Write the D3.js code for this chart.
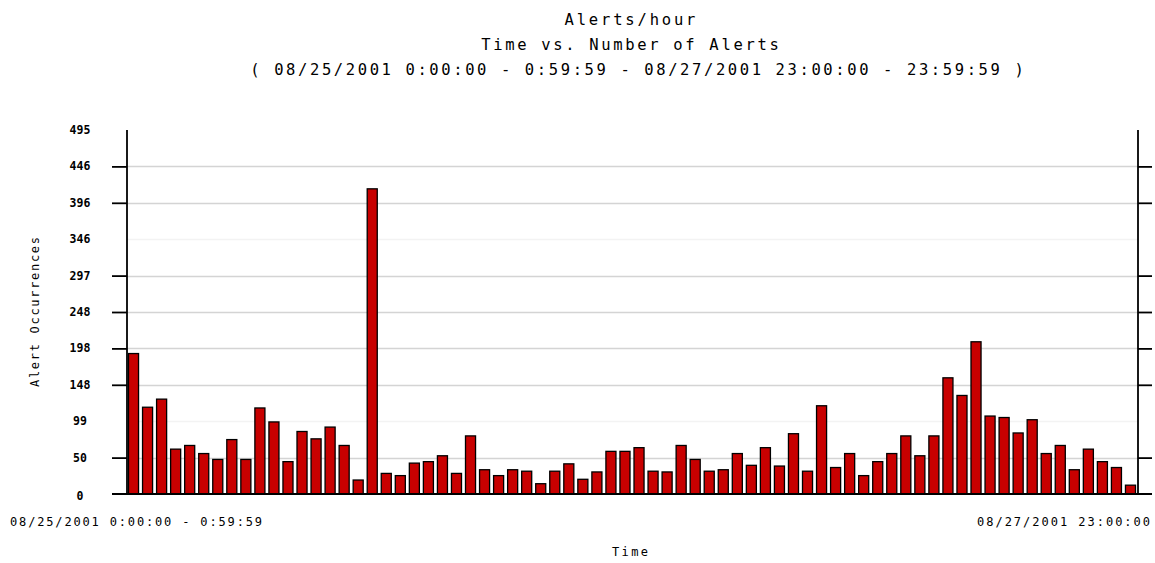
<!DOCTYPE html>
<html>
<head>
<meta charset="utf-8">
<script src="https://cdn.jsdelivr.net/npm/d3@7"></script>
<style>
  html, body { margin: 0; padding: 0; background: #fff; }
  svg { display: block; }
  text { font-family: "DejaVu Sans Mono", monospace; fill: #000; }
</style>
</head>
<body>
<svg id="chart" width="1155" height="563"></svg>
<script>
// ---- data ----
const titleLines = [
  "Alerts/hour",
  "Time vs. Number of Alerts",
  "( 08/25/2001 0:00:00 - 0:59:59 - 08/27/2001 23:00:00 - 23:59:59 )"
];
const days = ["08/25/2001", "08/26/2001", "08/27/2001"];
const alertCounts = [
  191,118,129,61,66,55,47,74,47,117,98,44,85,75,91,66,19,415,28,25,42,44,52,28,
  79,33,25,33,31,14,31,41,20,30,58,58,63,31,30,66,47,31,33,55,39,63,38,82,31,120,
  36,55,25,44,55,79,52,79,158,134,207,106,104,83,101,55,66,33,61,44,36,12
];
const yMax = 495;
const yTickValues = [0, 49.5, 99, 148.5, 198, 247.5, 297, 346.5, 396, 445.5, 495];
const yTickLabels = ["0", "50", "99", "148", "198", "248", "297", "346", "396", "446", "495"];
const faintTicks = [99, 346.5];
const xFirstLabel = "08/25/2001 0:00:00 - 0:59:59";
const xLastLabel = "08/27/2001 23:00:00";
const yTitle = "Alert Occurrences";
const xTitle = "Time";

(function () {
// categories: one per hour
const categories = [];
days.forEach(d => { for (let h = 0; h < 24; h++) categories.push(d + " " + h + ":00:00"); });

// ---- layout ----
const svg = d3.select("#chart");
const pLeft = 127, pRight = 1138, pTop = 130, pBottom = 494;

const x = d3.scaleBand().domain(categories).range([pLeft, pRight]).padding(0);
const y = d3.scaleLinear().domain([0, yMax]).range([pBottom, pTop]);

// titles
const titleY = [20, 45, 70];
titleLines.forEach((t, i) => {
  svg.append("text")
    .attr("x", i === 2 ? 637 : 630)
    .attr("y", titleY[i])
    .attr("dy", "0.35em")
    .attr("text-anchor", "middle")
    .attr("font-size", 15.5)
    .attr("textLength", t.length * 11.9)
    .attr("lengthAdjust", "spacing")
    .text(t);
});

// gridlines
svg.append("g").selectAll("line")
  .data(yTickValues.filter(v => v > 0 && v < yMax))
  .join("line")
  .attr("x1", pLeft).attr("x2", pRight)
  .attr("y1", d => Math.round(y(d)) + 0.5).attr("y2", d => Math.round(y(d)) + 0.5)
  .attr("stroke", d => faintTicks.includes(d) ? "#f3f3f3" : "#d4d4d4")
  .attr("stroke-width", 1.6);

// bars
svg.append("g").selectAll("rect")
  .data(alertCounts)
  .join("rect")
  .attr("x", (d, i) => x(categories[i]) + 1.5)
  .attr("width", x.bandwidth() - 4)
  .attr("y", d => y(d))
  .attr("height", d => pBottom - y(d))
  .attr("fill", "#c80000")
  .attr("stroke", "#000")
  .attr("stroke-width", 1.3);

// axes via d3 axis generators
const tickVals = yTickValues.filter(v => v > 0 && v < yMax && !faintTicks.includes(v));
const leftAxis = d3.axisLeft(y).tickValues(tickVals).tickSize(15).tickFormat("");
const rightAxis = d3.axisRight(y).tickValues(tickVals).tickSize(14).tickFormat("");

const gl = svg.append("g").attr("transform", `translate(${pLeft},0)`).call(leftAxis);
const gr = svg.append("g").attr("transform", `translate(${pRight},0)`).call(rightAxis);
[gl, gr].forEach(g => {
  g.select(".domain").remove();
  g.selectAll(".tick line").attr("stroke", "#000").attr("stroke-width", 1.8);
});

// axis lines
svg.append("line").attr("x1", pLeft).attr("x2", pLeft).attr("y1", pTop).attr("y2", pBottom)
  .attr("stroke", "#000").attr("stroke-width", 1.8);
svg.append("line").attr("x1", pRight).attr("x2", pRight).attr("y1", pTop).attr("y2", pBottom)
  .attr("stroke", "#000").attr("stroke-width", 1.8);
svg.append("line").attr("x1", 112).attr("x2", 1152).attr("y1", pBottom).attr("y2", pBottom)
  .attr("stroke", "#000").attr("stroke-width", 1.8);

// y tick labels
svg.append("g").selectAll("text")
  .data(yTickValues)
  .join("text")
  .attr("x", 80)
  .attr("y", (d, i) => y(d) + (i === 0 ? 2 : 0))
  .attr("dy", "0.35em")
  .attr("text-anchor", "middle")
  .attr("font-size", 11.5)
  .attr("font-weight", "bold")
  .text((d, i) => yTickLabels[i]);

// x labels
svg.append("text")
  .attr("x", 136).attr("y", 522).attr("dy", "0.35em")
  .attr("text-anchor", "middle").attr("font-size", 12)
  .attr("textLength", 252).attr("lengthAdjust", "spacing")
  .text(xFirstLabel);
svg.append("text")
  .attr("x", 1150).attr("y", 522).attr("dy", "0.35em")
  .attr("text-anchor", "end").attr("font-size", 12)
  .attr("textLength", 173).attr("lengthAdjust", "spacing")
  .text(xLastLabel);

// axis titles
svg.append("text")
  .attr("x", 630).attr("y", 552).attr("dy", "0.35em")
  .attr("text-anchor", "middle").attr("font-size", 12)
  .attr("textLength", 36).attr("lengthAdjust", "spacing")
  .text(xTitle);
svg.append("text")
  .attr("transform", "translate(35,312) rotate(-90)")
  .attr("dy", "0.35em")
  .attr("text-anchor", "middle").attr("font-size", 12)
  .attr("textLength", 150).attr("lengthAdjust", "spacing")
  .text(yTitle);
})();
</script>
</body>
</html>
